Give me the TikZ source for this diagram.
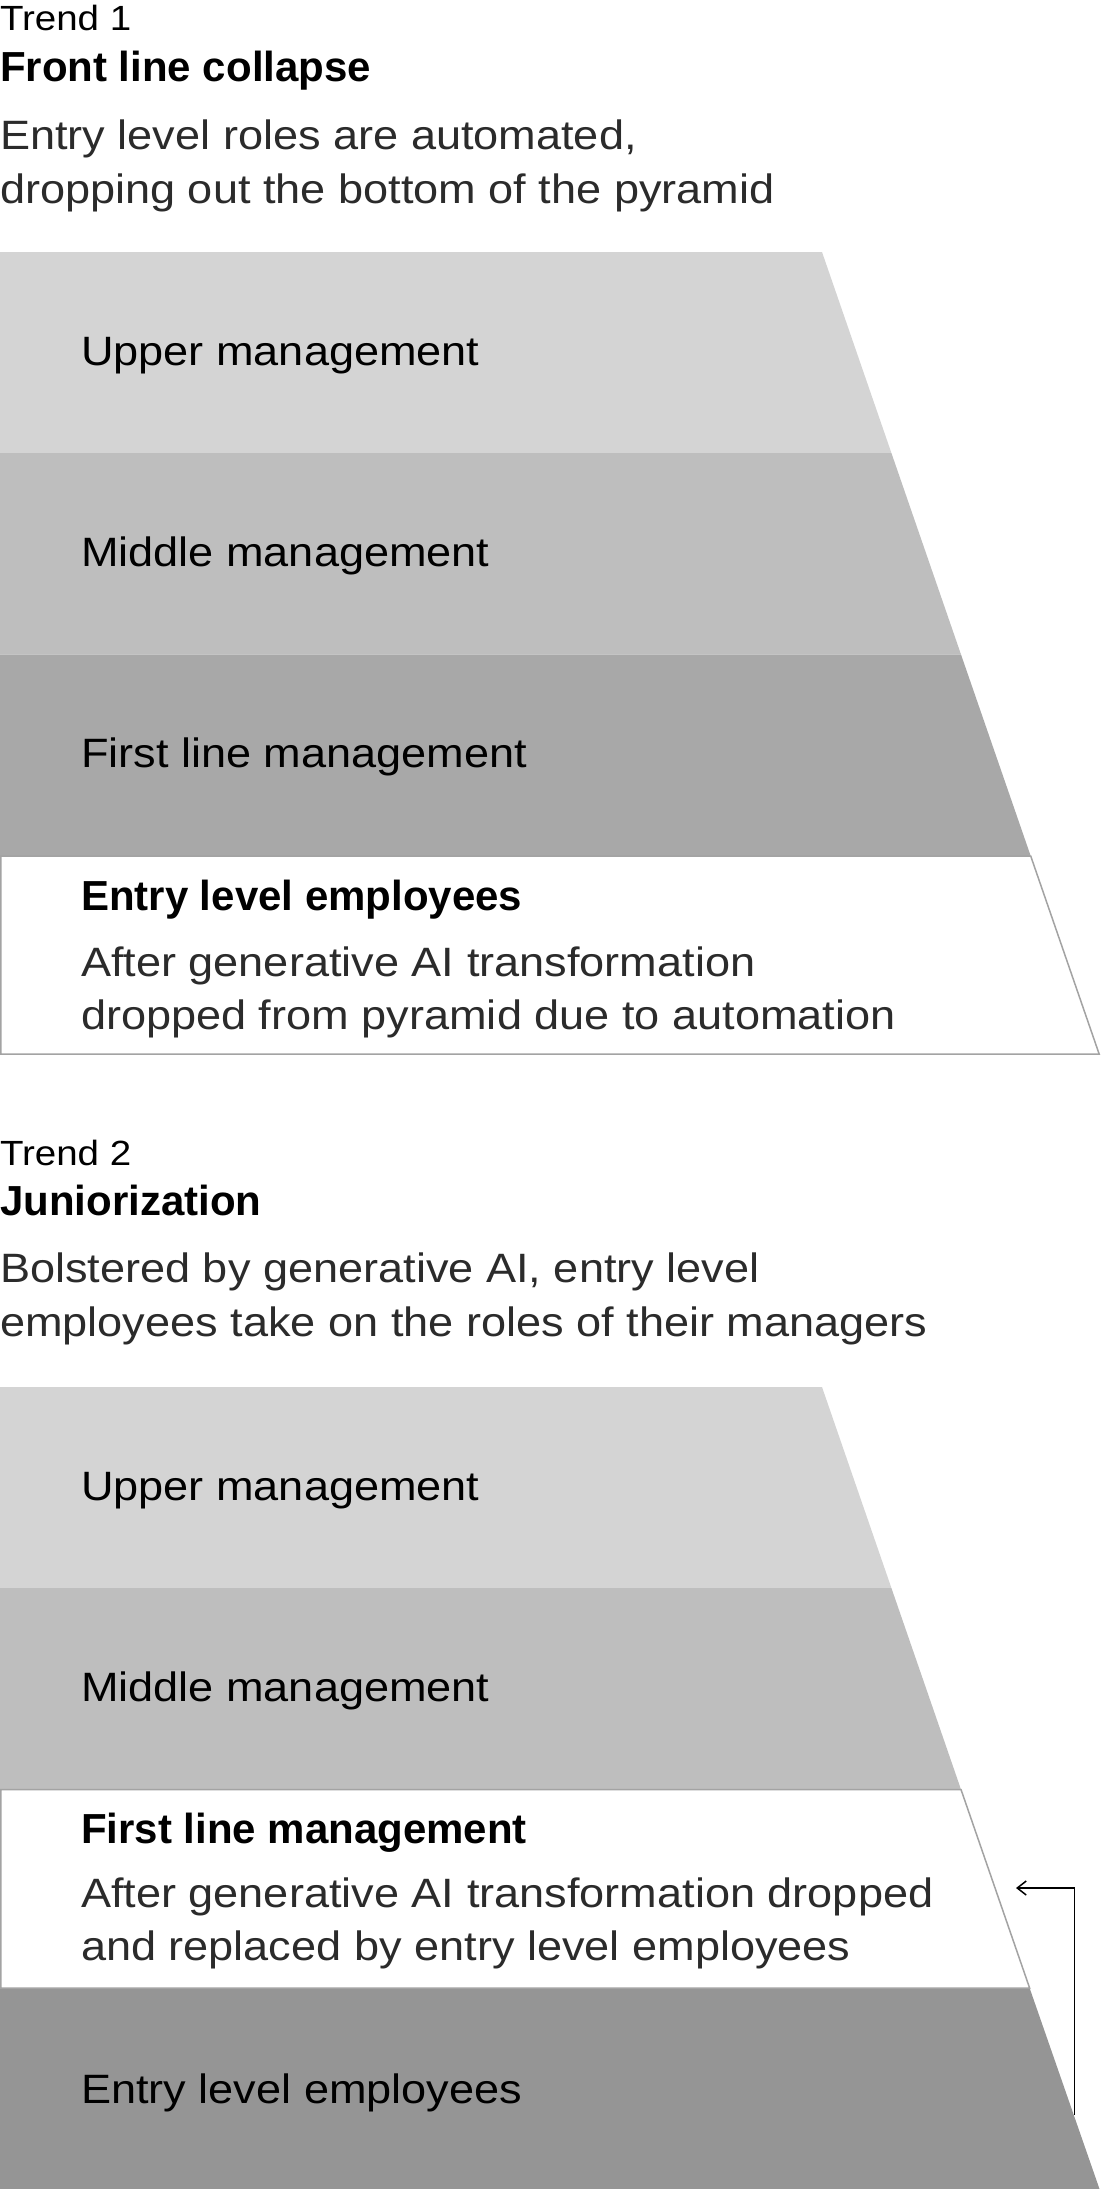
\documentclass[tikz,border=0pt]{standalone}
\usepackage{fontspec}
\setmainfont{Liberation Sans}
\newfontfamily\regf{Liberation Sans}[FakeStretch=1.1]
\usetikzlibrary{arrows.meta}
\definecolor{upperc}{HTML}{D4D4D4}
\definecolor{middlec}{HTML}{BEBEBE}
\definecolor{firstc}{HTML}{A8A8A8}
\definecolor{entryc}{HTML}{959595}
\definecolor{edgec}{HTML}{A3A3A3}
\definecolor{descc}{HTML}{2B2B2B}
\tikzset{
  txt/.style={anchor=base west, inner sep=0pt, outer sep=0pt},
  trendlbl/.style={txt, font=\regf\fontsize{35}{42}\selectfont, text=black},
  heading/.style={txt, font=\bfseries\fontsize{42}{50}\selectfont, text=black},
  desc/.style={txt, font=\regf\fontsize{41}{49}\selectfont, text=descc},
  layer/.style={txt, font=\regf\fontsize{41}{49}\selectfont, text=black},
  boxtitle/.style={txt, font=\bfseries\fontsize{42}{50}\selectfont, text=black},
  boxdesc/.style={txt, font=\regf\fontsize{41}{49}\selectfont, text=descc},
  dropband/.style={draw=edgec, line width=1.5pt, fill=white},
  moveline/.style={draw=black, line width=1.5pt, -{Straight Barb[length=9pt,width=14pt,line width=1.5pt]}}
}
\begin{document}
\begin{tikzpicture}[x=1pt,y=-1pt]
\useasboundingbox (0,0) rectangle (1101,2189);
\fill[white] (0,0) rectangle (1101,2189);

% ---------- Trend 1 ----------
\node[trendlbl] (t1lbl) at (0,31) {Trend 1};
\node[heading] (t1head) at (0,82) {Front line collapse};
\node[desc] (t1da) at (0,149.5) {Entry level roles are automated,};
\node[desc] (t1db) at (0,203.5) {dropping out the bottom of the pyramid};

\fill[upperc] (0,252) -- (822,252) -- (891.4,453) -- (0,453) -- cycle;
\fill[middlec] (0,453) -- (891.4,453) -- (961,654.5) -- (0,654.5) -- cycle;
\fill[firstc] (0,654.5) -- (961,654.5) -- (1030.7,856) -- (0,856) -- cycle;
\path[dropband] (0.75,856) -- (1030.7,856) -- (1099.2,1054.2) -- (0.75,1054.2) -- cycle;

\node[layer] (t1up) at (81,365.5) {Upper management};
\node[layer] (t1mid) at (81,566.5) {Middle management};
\node[layer] (t1first) at (81,767.5) {First line management};
\node[boxtitle] (t1entry) at (81,910) {Entry level employees};
\node[boxdesc] (t1ea) at (81,976.5) {After generative AI transformation};
\node[boxdesc] (t1eb) at (81,1029.5) {dropped from pyramid due to automation};

% ---------- Trend 2 ----------
\node[trendlbl] (t2lbl) at (0,1165) {Trend 2};
\node[heading] (t2head) at (0,1215.5) {Juniorization};
\node[desc] (t2da) at (0,1282.5) {Bolstered by generative AI, entry level};
\node[desc] (t2db) at (0,1336.5) {employees take on the roles of their managers};

\fill[upperc] (0,1387) -- (822,1387) -- (891.4,1588) -- (0,1588) -- cycle;
\fill[middlec] (0,1588) -- (891.4,1588) -- (961,1789.5) -- (0,1789.5) -- cycle;
\fill[entryc] (0,1988) -- (1029.6,1988) -- (1099.5,2189) -- (0,2189) -- cycle;
\path[dropband] (0.75,1789.5) -- (961,1789.5) -- (1029.6,1988) -- (0.75,1988) -- cycle;

\node[layer] (t2up) at (81,1500.5) {Upper management};
\node[layer] (t2mid) at (81,1701) {Middle management};
\node[boxtitle] (t2first) at (81,1843) {First line management};
\node[boxdesc] (t2fa) at (81,1907.5) {After generative AI transformation dropped};
\node[boxdesc] (t2fb) at (81,1960.5) {and replaced by entry level employees};
\node[layer] (t2entry) at (81,2103) {Entry level employees};

% ---------- replacement arrow ----------
\coordinate (arrfrom) at (1074.5,2115);
\coordinate (arrto) at (1016,1888);
\draw[moveline] (arrfrom) |- (arrto);
\end{tikzpicture}
\end{document}
